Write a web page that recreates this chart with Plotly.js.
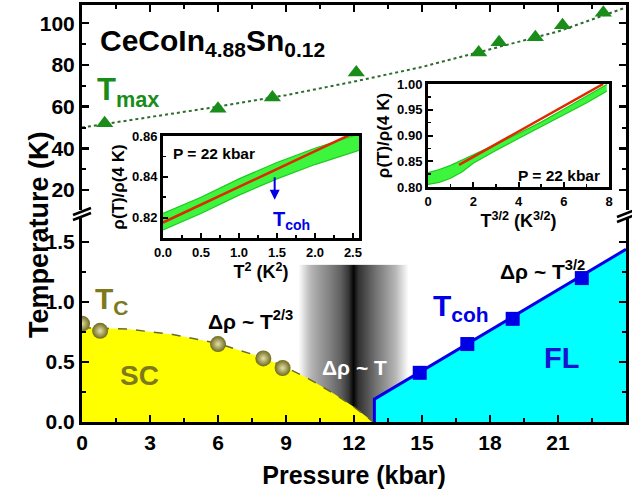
<!DOCTYPE html>
<html>
<head>
<meta charset="utf-8">
<script src="https://cdn.plot.ly/plotly-3.0.1.min.js"></script>
<style>html,body{margin:0;padding:0;background:#fff;}#chart{width:632px;height:497px;}</style>
</head>
<body>
<div id="chart"></div>
<script>
// ---- Main panel data ----
const pressureTmax = [1.0, 6.0, 8.4, 12.1, 17.5, 18.4, 20.0, 21.2, 23.0];
const tmaxValues   = [52, 59, 64.4, 76.4, 86, 90.9, 93.3, 99, 105];
const pressureTmaxFit = [0, 3, 6, 9, 12, 15, 18, 21, 24];
const tmaxFit         = [50, 55, 60, 65.5, 72, 79, 87.5, 96, 107.5];

const pressureTc = [0, 0.8, 6.0, 8.0, 8.85];
const tcValues   = [0.82, 0.76, 0.65, 0.53, 0.45];
const scBoundaryP = [0, 2, 4, 6, 8, 9, 10, 10.5, 11, 12, 12.85];
const scBoundaryT = [0.785, 0.775, 0.73, 0.655, 0.535, 0.455, 0.36, 0.305, 0.25, 0.125, 0];

const pressureTcoh = [14.9, 17.0, 19.0, 22.05];
const tcohValues   = [0.41, 0.65, 0.86, 1.20];
const flBoundaryP = [12.9, 12.9, 24];
const flBoundaryT = [0, 0.19, 1.44];

// crossover (grey) region: pressure positions and shade (0 = black, 1 = white)
const crossP     = [9.53, 10.06, 10.5, 10.94, 11.38, 11.73, 11.95, 12.18, 12.48, 12.93, 13.37, 13.8, 14.38];
const crossShade = [1.0, 0.72, 0.6, 0.5, 0.38, 0.22, 0.02, 0.2, 0.3, 0.45, 0.58, 0.72, 1.0];
const crossT     = [0, 0.655, 1.31];

// ---- Left inset: rho(T)/rho(4K) vs T^2 ----
const insetAT2    = [0, 0.5, 1.0, 1.5, 2.0, 2.5, 2.58];
const insetAUpper = [0.822, 0.830, 0.839, 0.847, 0.854, 0.860, 0.861];
const insetALower = [0.814, 0.822, 0.831, 0.839, 0.846, 0.852, 0.853];
const insetAFitX  = [0, 2.58];
const insetAFitY  = [0.8176, 0.8627];

// ---- Right inset: rho(T)/rho(4K) vs T^{3/2} ----
const insetBT32   = [0, 0.5, 1, 1.5, 2, 3, 4, 5, 6, 7, 7.9];
const insetBUpper = [0.828, 0.834, 0.842, 0.852, 0.863, 0.883, 0.904, 0.926, 0.951, 0.976, 0.999];
const insetBLower = [0.805, 0.809, 0.817, 0.829, 0.846, 0.871, 0.894, 0.917, 0.94, 0.963, 0.986];
const insetBFitX  = [1.37, 7.74];
const insetBFitY  = [0.843, 1.0];

// ---- Tick labels ----
const pressureTicks = [0, 3, 6, 9, 12, 15, 18, 21, 24];
const lowTempTicks = [0, 0.5, 1.0, 1.5];
const lowTempLabels = ['0.0', '0.5', '1.0', '1.5'];
const highTempTicks = [20, 40, 60, 80, 100];
const insetAXTicks = [0, 0.5, 1.0, 1.5, 2.0, 2.5];
const insetAXLabels = ['0.0', '0.5', '1.0', '1.5', '2.0', '2.5'];
const insetAYTicks = [0.82, 0.84, 0.86];
const insetBXTicks = [0, 2, 4, 6, 8];
const insetBYTicks = [0.80, 0.85, 0.90, 0.95, 1.00];

const FONT = 'Liberation Sans, Arial, Helvetica, sans-serif';
const GREEN = '#1a8c1a', OLIVE = '#7d791e', BLUE = '#0000e6';

const traces = [
  { type: 'heatmap', x: crossP, y: crossT, z: [crossShade, crossShade],
    xaxis: 'x', yaxis: 'y', zsmooth: 'best', zmin: 0, zmax: 1,
    colorscale: [[0, '#000000'], [1, '#ffffff']], showscale: false, hoverinfo: 'skip' },
  { type: 'scatter', mode: 'lines', x: scBoundaryP, y: scBoundaryT, xaxis: 'x', yaxis: 'y',
    fill: 'tozeroy', fillcolor: '#ffff00', line: { color: '#6b6a2a', width: 1.5, dash: 'dash' } },
  { type: 'scatter', mode: 'lines', x: flBoundaryP, y: flBoundaryT, xaxis: 'x', yaxis: 'y',
    fill: 'tozeroy', fillcolor: '#00ffff', line: { color: BLUE, width: 3 } },
  { type: 'scatter', mode: 'markers', x: pressureTc, y: tcValues, xaxis: 'x', yaxis: 'y',
    marker: { symbol: 'circle', size: 16, color: '#6f6a1c',
      gradient: { type: 'radial', color: '#e4e0a8' }, line: { width: 0 } } },
  { type: 'scatter', mode: 'markers', x: pressureTcoh, y: tcohValues, xaxis: 'x', yaxis: 'y',
    marker: { symbol: 'square', size: 14, color: BLUE, line: { width: 0 } } },
  { type: 'scatter', mode: 'lines', x: pressureTmaxFit, y: tmaxFit, xaxis: 'x2', yaxis: 'y2',
    line: { color: '#2e6b2e', width: 2, dash: 'dot' } },
  { type: 'scatter', mode: 'markers', x: pressureTmax, y: tmaxValues, xaxis: 'x2', yaxis: 'y2',
    marker: { symbol: 'triangle-up', size: 15, color: GREEN, line: { width: 0 } } },
  // left inset
  { type: 'scatter', mode: 'lines', x: insetAT2, y: insetALower, xaxis: 'x3', yaxis: 'y3',
    line: { color: '#22c822', width: 1.2 } },
  { type: 'scatter', mode: 'lines', x: insetAT2, y: insetAUpper, xaxis: 'x3', yaxis: 'y3',
    fill: 'tonexty', fillcolor: '#3cf53c', line: { color: '#22c822', width: 1.2 } },
  { type: 'scatter', mode: 'lines', x: insetAFitX, y: insetAFitY, xaxis: 'x3', yaxis: 'y3',
    line: { color: '#dd2a00', width: 2.5 } },
  // right inset
  { type: 'scatter', mode: 'lines', x: insetBT32, y: insetBLower, xaxis: 'x4', yaxis: 'y4',
    line: { color: '#22c822', width: 1.2 } },
  { type: 'scatter', mode: 'lines', x: insetBT32, y: insetBUpper, xaxis: 'x4', yaxis: 'y4',
    fill: 'tonexty', fillcolor: '#3cf53c', line: { color: '#22c822', width: 1.2 } },
  { type: 'scatter', mode: 'lines', x: insetBFitX, y: insetBFitY, xaxis: 'x4', yaxis: 'y4',
    line: { color: '#dd2a00', width: 2.5 } }
];

const tickFont = { family: FONT, size: 21, color: '#000', weight: 'bold' };
const insetTickFont = { family: FONT, size: 13, color: '#000', weight: 'bold' };
const minorMain = { ticks: 'inside', ticklen: 4, tickwidth: 2, tickcolor: '#000' };

function px2x(p) { return (p - 82) / 544; }
function px2y(p) { return (422 - p) / 417; }

const layout = {
  width: 632, height: 497,
  margin: { l: 82, r: 6, t: 5, b: 75 },
  paper_bgcolor: '#fff', plot_bgcolor: 'rgba(0,0,0,0)',
  showlegend: false,
  font: { family: FONT, color: '#000', weight: 'bold' },
  xaxis: { domain: [0, 1], anchor: 'y', range: [0, 24], tickvals: pressureTicks,
    ticks: 'inside', ticklen: 7, tickwidth: 2.5, tickcolor: '#000',
    minor: Object.assign({ dtick: 1.5 }, minorMain),
    showline: true, linewidth: 3, linecolor: '#000', showgrid: false, zeroline: false,
    tickfont: tickFont,
    title: { text: 'Pressure (kbar)', font: { family: FONT, size: 25, weight: 'bold', color: '#000' }, standoff: 14 } },
  yaxis: { domain: [0, 0.489], anchor: 'x', range: [0, 1.70], tickvals: lowTempTicks, ticktext: lowTempLabels,
    ticks: 'inside', ticklen: 7, tickwidth: 2.5, tickcolor: '#000',
    minor: Object.assign({ dtick: 0.25 }, minorMain),
    showline: true, linewidth: 3, linecolor: '#000', mirror: 'ticks', showgrid: false, zeroline: false,
    tickfont: tickFont },
  xaxis2: { domain: [0, 1], anchor: 'y2', side: 'top', range: [0, 24], tickvals: pressureTicks,
    showticklabels: false, ticks: 'inside', ticklen: 7, tickwidth: 2.5, tickcolor: '#000',
    minor: Object.assign({ dtick: 1.5 }, minorMain),
    showline: true, linewidth: 3, linecolor: '#000', showgrid: false, zeroline: false },
  yaxis2: { domain: [0.508, 1], anchor: 'x2', range: [10.4, 108.7], tickvals: highTempTicks,
    ticks: 'inside', ticklen: 7, tickwidth: 2.5, tickcolor: '#000',
    minor: Object.assign({ dtick: 10 }, minorMain),
    showline: true, linewidth: 3, linecolor: '#000', mirror: 'ticks', showgrid: false, zeroline: false,
    tickfont: tickFont },
  xaxis3: { domain: [px2x(163), px2x(359)], anchor: 'y3', range: [0, 2.58],
    tickvals: insetAXTicks, ticktext: insetAXLabels,
    ticks: 'inside', ticklen: 5, tickwidth: 2, tickcolor: '#000',
    minor: { dtick: 0.25, ticks: 'inside', ticklen: 3, tickwidth: 1.5, tickcolor: '#000' },
    showline: true, linewidth: 3, linecolor: '#000', mirror: true, showgrid: false, zeroline: false,
    tickfont: insetTickFont,
    title: { text: 'T<sup>2</sup> (K<sup>2</sup>)', font: { family: FONT, size: 18, weight: 'bold', color: '#000' }, standoff: 2 } },
  yaxis3: { domain: [px2y(238), px2y(136)], anchor: 'x3', range: [0.81, 0.86], tickvals: insetAYTicks,
    ticks: 'inside', ticklen: 5, tickwidth: 2, tickcolor: '#000',
    minor: { dtick: 0.01, ticks: 'inside', ticklen: 3, tickwidth: 1.5, tickcolor: '#000' },
    showline: true, linewidth: 3, linecolor: '#000', mirror: true, showgrid: false, zeroline: false,
    tickfont: insetTickFont,
    title: { text: 'ρ(T)/ρ(4 K)', font: { family: FONT, size: 17, weight: 'bold', color: '#000' }, standoff: 4 } },
  xaxis4: { domain: [px2x(428), px2x(609)], anchor: 'y4', range: [0, 8], tickvals: insetBXTicks,
    ticks: 'inside', ticklen: 5, tickwidth: 2, tickcolor: '#000',
    minor: { dtick: 1, ticks: 'inside', ticklen: 3, tickwidth: 1.5, tickcolor: '#000' },
    showline: true, linewidth: 3, linecolor: '#000', mirror: true, showgrid: false, zeroline: false,
    tickfont: insetTickFont,
    title: { text: 'T<sup>3/2</sup> (K<sup>3/2</sup>)', font: { family: FONT, size: 18, weight: 'bold', color: '#000' }, standoff: 2 } },
  yaxis4: { domain: [px2y(187), px2y(84)], anchor: 'x4', range: [0.80, 1.00], tickvals: insetBYTicks,
    tickformat: '.2f',
    ticks: 'inside', ticklen: 5, tickwidth: 2, tickcolor: '#000',
    minor: { dtick: 0.025, ticks: 'inside', ticklen: 3, tickwidth: 1.5, tickcolor: '#000' },
    showline: true, linewidth: 3, linecolor: '#000', mirror: true, showgrid: false, zeroline: false,
    tickfont: insetTickFont,
    title: { text: 'ρ(T)/ρ(4 K)', font: { family: FONT, size: 17, weight: 'bold', color: '#000' }, standoff: 4 } },
  shapes: [
    { type: 'line', xref: 'paper', yref: 'paper', x0: px2x(73), y0: px2y(215), x1: px2x(91), y1: px2y(208), line: { color: '#000', width: 2.5 } },
    { type: 'line', xref: 'paper', yref: 'paper', x0: px2x(73), y0: px2y(220), x1: px2x(91), y1: px2y(213), line: { color: '#000', width: 2.5 } },
    { type: 'line', xref: 'paper', yref: 'paper', x0: px2x(617), y0: px2y(217), x1: px2x(635), y1: px2y(210), line: { color: '#000', width: 2.5 } },
    { type: 'line', xref: 'paper', yref: 'paper', x0: px2x(617), y0: px2y(222), x1: px2x(635), y1: px2y(215), line: { color: '#000', width: 2.5 } }
  ],
  annotations: [
    { xref: 'paper', yref: 'paper', x: px2x(22), y: px2y(235), text: 'Temperature (K)', textangle: -90,
      showarrow: false, font: { family: FONT, size: 27, weight: 'bold', color: '#000' } },
    { xref: 'paper', yref: 'paper', x: px2x(98), y: px2y(42), xanchor: 'left', yanchor: 'middle',
      text: 'CeCoIn<sub>4.88</sub>Sn<sub>0.12</sub>', showarrow: false,
      font: { family: FONT, size: 30, weight: 'bold', color: '#000' } },
    { xref: 'paper', yref: 'paper', x: px2x(95), y: px2y(92), xanchor: 'left', yanchor: 'middle',
      text: 'T<sub>max</sub>', showarrow: false, font: { family: FONT, size: 31, weight: 'bold', color: GREEN } },
    { xref: 'paper', yref: 'paper', x: px2x(93), y: px2y(300), xanchor: 'left', yanchor: 'middle',
      text: 'T<sub>C</sub>', showarrow: false, font: { family: FONT, size: 30, weight: 'bold', color: OLIVE } },
    { xref: 'paper', yref: 'paper', x: px2x(139), y: px2y(375), xanchor: 'center', yanchor: 'middle',
      text: 'SC', showarrow: false, font: { family: FONT, size: 28, weight: 'bold', color: OLIVE } },
    { xref: 'paper', yref: 'paper', x: px2x(206), y: px2y(320), xanchor: 'left', yanchor: 'middle',
      text: 'Δρ ~ T<sup>2/3</sup>', showarrow: false, font: { family: FONT, size: 21, weight: 'bold', color: '#000' } },
    { xref: 'paper', yref: 'paper', x: px2x(354), y: px2y(367), xanchor: 'center', yanchor: 'middle',
      text: 'Δρ ~ T', showarrow: false, font: { family: FONT, size: 21, weight: 'bold', color: '#fff' } },
    { xref: 'paper', yref: 'paper', x: px2x(431), y: px2y(308), xanchor: 'left', yanchor: 'middle',
      text: 'T<sub>coh</sub>', showarrow: false, font: { family: FONT, size: 30, weight: 'bold', color: BLUE } },
    { xref: 'paper', yref: 'paper', x: px2x(561), y: px2y(358), xanchor: 'center', yanchor: 'middle',
      text: 'FL', showarrow: false, font: { family: FONT, size: 29, weight: 'bold', color: '#1414d2' } },
    { xref: 'paper', yref: 'paper', x: px2x(498), y: px2y(270), xanchor: 'left', yanchor: 'middle',
      text: 'Δρ ~ T<sup>3/2</sup>', showarrow: false, font: { family: FONT, size: 21, weight: 'bold', color: '#000' } },
    { xref: 'paper', yref: 'paper', x: px2x(171), y: px2y(153), xanchor: 'left', yanchor: 'middle',
      text: 'P = 22 kbar', showarrow: false, font: { family: FONT, size: 15.5, weight: 'bold', color: '#000' } },
    { xref: 'paper', yref: 'paper', x: px2x(516), y: px2y(175), xanchor: 'left', yanchor: 'middle',
      text: 'P = 22 kbar', showarrow: false, font: { family: FONT, size: 15.5, weight: 'bold', color: '#000' } },
    { xref: 'x3', yref: 'y3', x: 1.47, y: 0.8288, axref: 'x3', ayref: 'y3', ax: 1.47, ay: 0.8405,
      text: '', showarrow: true, arrowhead: 2, arrowsize: 1, arrowwidth: 2, arrowcolor: BLUE },
    { xref: 'paper', yref: 'paper', x: px2x(271), y: px2y(220), xanchor: 'left', yanchor: 'middle',
      text: 'T<sub>coh</sub>', showarrow: false, font: { family: FONT, size: 20, weight: 'bold', color: BLUE } }
  ]
};

Plotly.newPlot('chart', traces, layout, { staticPlot: true, displayModeBar: false });
</script>
</body>
</html>
